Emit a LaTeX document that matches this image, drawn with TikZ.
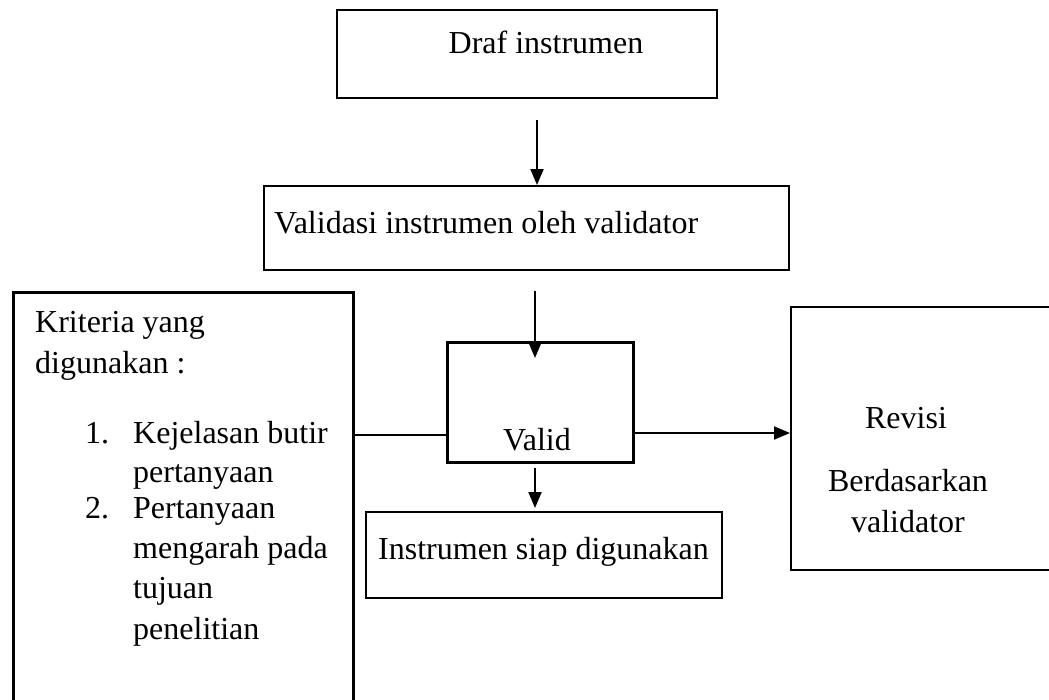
\documentclass[tikz,border=0pt]{standalone}
\usepackage{fontspec}
\setmainfont{Liberation Serif}
\usetikzlibrary{arrows.meta}
\begin{document}
\begin{tikzpicture}[x=1pt,y=-1pt,
  box/.style={draw,line width=2pt,inner sep=0pt},
  thickbox/.style={box,line width=3pt},
  txt/.style={inner sep=0pt,font=\fontsize{32}{38}\selectfont},
  lbl/.style={txt,anchor=base west},
  clbl/.style={txt,anchor=base},
  arr/.style={line width=2pt,-{Triangle[length=16pt,width=13pt]}},
  link/.style={line width=2pt}
]
\useasboundingbox (0,0) rectangle (1049,699);

% boxes
\node[box,minimum width=380pt,minimum height=88pt] (draf) at (527,54) {};
\node[box,minimum width=525pt,minimum height=84pt] (validasi) at (526.5,228) {};
\node[thickbox,minimum width=186pt,minimum height=120pt] (valid) at (540,402) {};
\node[thickbox,minimum width=340pt,minimum height=440pt] (kriteria) at (183,512) {};
\node[box,minimum width=279pt,minimum height=263pt] (revisi) at (930.5,438.5) {};
\node[box,minimum width=356pt,minimum height=86pt] (siap) at (544,555) {};

% texts
\node[clbl] (tdraf) at (546,53) {Draf instrumen};
\node[lbl] (tvalidasi) at (274,233) {Validasi instrumen oleh validator};
\node[clbl] (tvalid) at (537,450) {Valid};
\node[clbl] (trev1) at (906,428) {Revisi};
\node[clbl] (trev2) at (908,491) {Berdasarkan};
\node[clbl] (trev3) at (908,532) {validator};
\node[lbl] (tsiap) at (378,559) {Instrumen siap digunakan};

\node[lbl] (k1) at (35,332) {Kriteria yang};
\node[lbl] (k2) at (35,373) {digunakan :};
\node[lbl] (n1) at (85,443) {1.};
\node[lbl] (i1a) at (133,443) {Kejelasan butir};
\node[lbl] (i1b) at (133,482) {pertanyaan};
\node[lbl] (n2) at (85,518) {2.};
\node[lbl] (i2a) at (133,518) {Pertanyaan};
\node[lbl] (i2b) at (133,558) {mengarah pada};
\node[lbl] (i2c) at (133,598) {tujuan};
\node[lbl] (i2d) at (133,639) {penelitian};

% connectors
\coordinate (a1) at (537,120);
\draw[arr] (a1) -- (a1 |- validasi.north);
\coordinate (a2) at (535,291);
\coordinate (a2e) at (535,358);
\draw[arr] (a2) -- (a2e);
\coordinate (a3) at (535,468);
\coordinate (a3e) at (535,508);
\draw[arr] (a3) -- (a3e);
\coordinate (a4) at (633,433);
\draw[arr] (a4) -- (a4 -| revisi.west);
\coordinate (l1) at (353,435);
\draw[link] (l1) -- (l1 -| valid.west);
\end{tikzpicture}
\end{document}
